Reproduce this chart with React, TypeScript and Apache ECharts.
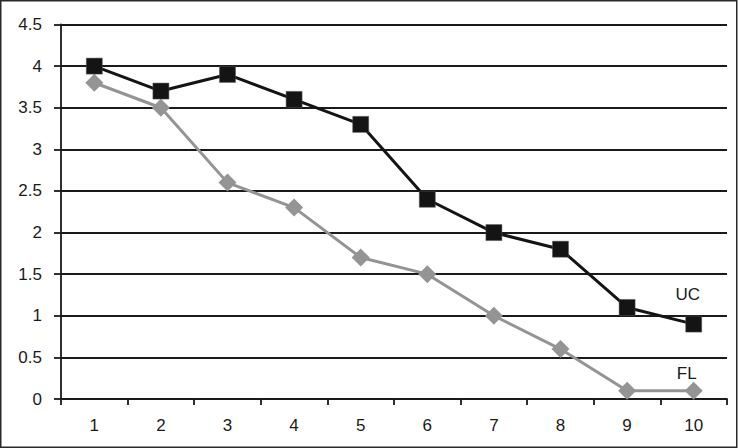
import React, { useEffect, useRef } from "react";
import * as echarts from "echarts";

const categories = ["1", "2", "3", "4", "5", "6", "7", "8", "9", "10"];
const ucValues = [4.0, 3.7, 3.9, 3.6, 3.3, 2.4, 2.0, 1.8, 1.1, 0.9];
const flValues = [3.8, 3.5, 2.6, 2.3, 1.7, 1.5, 1.0, 0.6, 0.1, 0.1];
const ucName = "UC";
const flName = "FL";

const FONT = "'Liberation Sans', Arial, Helvetica, sans-serif";

function withEndLabel(values: number[], name: string, offset: number[], distance: number) {
  return values.map((v, i) =>
    i === values.length - 1
      ? {
          value: v,
          label: {
            show: true,
            position: "top",
            distance,
            offset,
            formatter: name,
            color: "#1a1a1a",
            fontSize: 17,
            fontFamily: FONT,
          },
        }
      : v
  );
}

export default function App() {
  const ref = useRef<HTMLDivElement>(null);
  useEffect(() => {
    if (!ref.current) return;
    const chart = echarts.init(ref.current, null, { renderer: "svg" });
    chart.setOption({
      animation: false,
      backgroundColor: "#ffffff",
      grid: { left: 61, right: 11, top: 24.5, bottom: 49, containLabel: false },
      graphic: [
        {
          type: "rect",
          shape: { x: 0.75, y: 0.75, width: 736, height: 446.5 },
          style: { fill: "none", stroke: "#2a2a2a", lineWidth: 1.5 },
          silent: true,
        },
      ],
      xAxis: {
        type: "category",
        data: categories,
        boundaryGap: true,
        axisLine: { show: true, lineStyle: { color: "#1a1a1a", width: 1.8 } },
        axisTick: { show: true, alignWithLabel: false, length: 6, lineStyle: { color: "#1a1a1a", width: 1.8 } },
        axisLabel: { color: "#1a1a1a", fontSize: 17, fontFamily: FONT, margin: 18 },
        splitLine: { show: false },
      },
      yAxis: {
        type: "value",
        min: 0,
        max: 4.5,
        interval: 0.5,
        axisLine: { show: true, lineStyle: { color: "#1a1a1a", width: 1.8 } },
        axisTick: { show: true, length: 7, lineStyle: { color: "#1a1a1a", width: 1.8 } },
        axisLabel: {
          color: "#1a1a1a",
          fontSize: 17,
          fontFamily: FONT,
          margin: 19,
          formatter: (v: number) => String(v),
        },
        splitLine: { show: true, lineStyle: { color: "#1a1a1a", width: 1.8 } },
      },
      series: [
        {
          name: ucName,
          type: "line",
          data: withEndLabel(ucValues, ucName, [-6, -6], 7),
          symbol: "rect",
          symbolSize: 16,
          lineStyle: { color: "#141414", width: 3 },
          itemStyle: { color: "#141414", borderColor: "#555", borderWidth: 0.5 },
          z: 3,
        },
        {
          name: flName,
          type: "line",
          data: withEndLabel(flValues, flName, [-7, 7], 7),
          symbol: "diamond",
          symbolSize: 18,
          lineStyle: { color: "#949494", width: 3 },
          itemStyle: { color: "#949494" },
          z: 2,
        },
      ],
    });
    return () => chart.dispose();
  }, []);
  return (
    <div
      ref={ref}
      style={{ position: "fixed", left: 0, top: 0, width: 738, height: 448, background: "#fff" }}
    />
  );
}
